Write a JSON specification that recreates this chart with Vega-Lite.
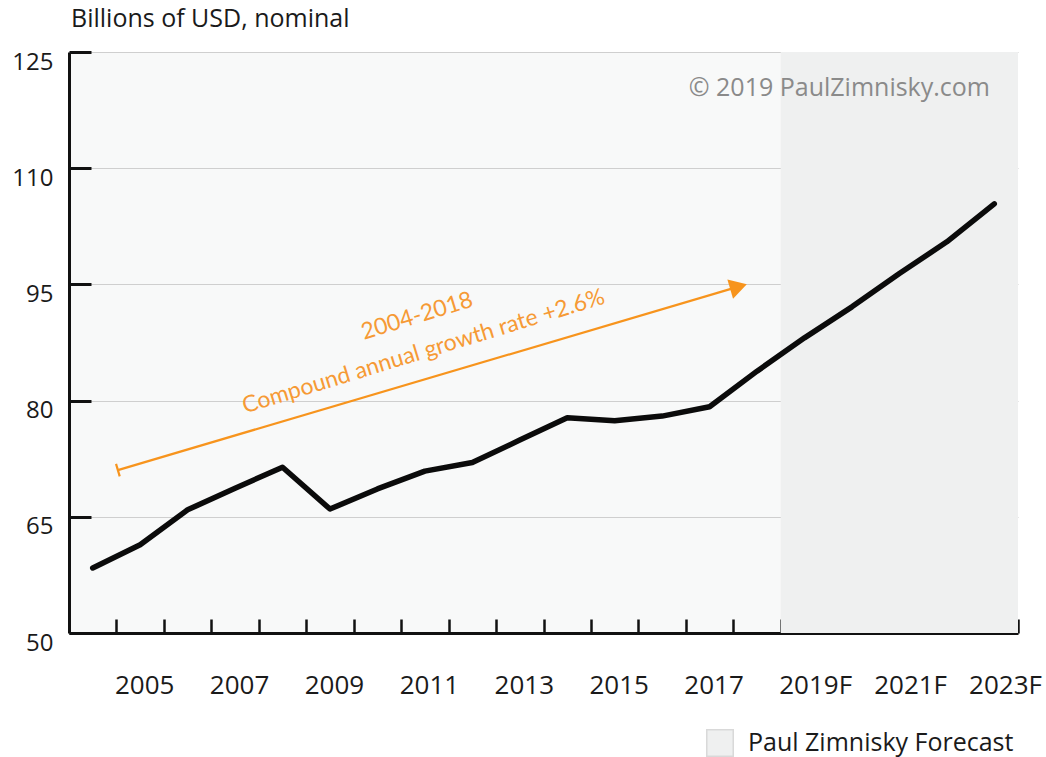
{
  "$schema": "https://vega.github.io/schema/vega-lite/v6.json",
  "width": 949,
  "height": 581,
  "autosize": {"type": "none"},
  "padding": {"left": 69, "top": 52, "right": 28, "bottom": 124},
  "background": "white",
  "title": {
    "text": "Billions of USD, nominal",
    "anchor": "start",
    "frame": "group",
    "orient": "top",
    "offset": -2,
    "baseline": "alphabetic",
    "dx": 2,
    "font": "Open Sans",
    "fontSize": 25,
    "fontWeight": "normal",
    "color": "#1a1a1a"
  },
  "config": {
    "font": "Open Sans",
    "view": {"fill": "#f8f9f9", "stroke": null},
    "axis": {"title": null}
  },
  "datasets": {
    "series": [
      {"year": 2004, "value": 58.4},
      {"year": 2005, "value": 61.4},
      {"year": 2006, "value": 65.9},
      {"year": 2007, "value": 68.7},
      {"year": 2008, "value": 71.4},
      {"year": 2009, "value": 66.0},
      {"year": 2010, "value": 68.6},
      {"year": 2011, "value": 70.9},
      {"year": 2012, "value": 72.0},
      {"year": 2013, "value": 74.9},
      {"year": 2014, "value": 77.8},
      {"year": 2015, "value": 77.4},
      {"year": 2016, "value": 78.0},
      {"year": 2017, "value": 79.2},
      {"year": 2018, "value": 83.8},
      {"year": 2019, "value": 88.1},
      {"year": 2020, "value": 92.1},
      {"year": 2021, "value": 96.4},
      {"year": 2022, "value": 100.5},
      {"year": 2023, "value": 105.4}
    ],
    "forecast": [
      {"start": 2018.5, "end": 2023.5, "label": "Paul Zimnisky Forecast"}
    ],
    "arrow": [
      {"x1": 2004.53, "y1": 71.03, "x2": 2017.61, "y2": 94.71}
    ],
    "notes": [
      {"x": 2010.834, "y": 90.9, "text": "2004-2018"},
      {"x": 2010.971, "y": 86.32, "text": "Compound annual growth rate +2.6%"}
    ],
    "credit": [
      {"x": 2022.91, "y": 120.3, "text": "© 2019 PaulZimnisky.com"}
    ]
  },
  "layer": [
    {
      "data": {"name": "forecast"},
      "mark": {"type": "rect"},
      "encoding": {
        "x": {
          "field": "start",
          "type": "quantitative",
          "scale": {"domain": [2003.5, 2023.5], "nice": false, "zero": false},
          "axis": {
            "values": [2004.5, 2005.5, 2006.5, 2007.5, 2008.5, 2009.5, 2010.5, 2011.5, 2012.5, 2013.5, 2014.5, 2015.5, 2016.5, 2017.5, 2018.5, 2019.5, 2020.5, 2021.5, 2022.5, 2023.5],
            "labelExpr": "(datum.value + 0.5) % 2 == 1 ? ((datum.value + 0.5) >= 2019 ? (datum.value + 0.5) + 'F' : '' + (datum.value + 0.5)) : ''",
            "labelAlign": "left",
            "labelBaseline": "alphabetic",
            "labelOffset": -2,
            "labelPadding": 74,
            "labelFontSize": 26,
            "labelColor": "#1a1a1a",
            "labelOverlap": false,
            "labelFlush": false,
            "labelBound": false,
            "tickSize": -14,
            "tickWidth": 2.5,
            "tickColor": "#111111",
            "domainColor": "#111111",
            "domainWidth": 3,
            "grid": false,
            "title": null
          }
        },
        "x2": {"field": "end"},
        "fill": {
          "field": "label",
          "type": "nominal",
          "scale": {"domain": ["Paul Zimnisky Forecast"], "range": ["#eff0f0"]},
          "legend": {
            "orient": "none",
            "legendX": 637,
            "legendY": 677,
            "title": null,
            "padding": 0,
            "symbolType": "square",
            "symbolSize": 700,
            "symbolStrokeColor": "#d9d9d9",
            "symbolStrokeWidth": 1.5,
            "symbolFillColor": "#eff0f0",
            "labelFontSize": 25,
            "labelLimit": 500,
            "labelColor": "#1a1a1a",
            "labelOffset": 14,
            "labelFont": "Open Sans"
          }
        }
      }
    },
    {
      "data": {"name": "series"},
      "mark": {"type": "line", "color": "#0b0b0b", "strokeWidth": 5.5, "strokeCap": "round", "strokeJoin": "round"},
      "encoding": {
        "x": {"field": "year", "type": "quantitative"},
        "y": {
          "field": "value",
          "type": "quantitative",
          "scale": {"domain": [50, 125], "nice": false, "zero": false},
          "axis": {
            "values": [50, 65, 80, 95, 110, 125],
            "labelFontSize": 24,
            "labelColor": "#1a1a1a",
            "labelPadding": 38,
            "labelOffset": 10,
            "labelBaseline": "middle",
            "tickSize": -22,
            "tickWidth": 3,
            "tickColor": "#111111",
            "domainColor": "#111111",
            "domainWidth": 3,
            "grid": true,
            "gridColor": "#cfcfcf",
            "gridWidth": 1.2,
            "title": null
          }
        }
      }
    },
    {
      "data": {"name": "arrow"},
      "mark": {"type": "rule", "color": "#f7941d", "strokeWidth": 2.2},
      "encoding": {
        "x": {"field": "x1", "type": "quantitative"},
        "y": {"field": "y1", "type": "quantitative"},
        "x2": {"field": "x2"},
        "y2": {"field": "y2"}
      }
    },
    {
      "data": {"name": "arrow"},
      "mark": {"type": "point", "shape": "triangle-right", "filled": true, "color": "#f7941d", "opacity": 1, "size": 400, "angle": -16.5},
      "encoding": {
        "x": {"field": "x2", "type": "quantitative"},
        "y": {"field": "y2", "type": "quantitative"}
      }
    },
    {
      "data": {"name": "arrow"},
      "mark": {"type": "point", "shape": "stroke", "filled": false, "color": "#f7941d", "strokeWidth": 2.2, "opacity": 1, "size": 169, "angle": 73.5},
      "encoding": {
        "x": {"field": "x1", "type": "quantitative"},
        "y": {"field": "y1", "type": "quantitative"}
      }
    },
    {
      "data": {"name": "notes"},
      "mark": {"type": "text", "color": "#f69a35", "font": "Lato", "fontSize": 23, "angle": -17, "align": "center", "baseline": "middle"},
      "encoding": {
        "x": {"field": "x", "type": "quantitative"},
        "y": {"field": "y", "type": "quantitative"},
        "text": {"field": "text"}
      }
    },
    {
      "data": {"name": "credit"},
      "mark": {"type": "text", "color": "#8a8a8a", "font": "Open Sans", "fontSize": 25, "align": "right", "baseline": "middle"},
      "encoding": {
        "x": {"field": "x", "type": "quantitative"},
        "y": {"field": "y", "type": "quantitative"},
        "text": {"field": "text"}
      }
    }
  ]
}
